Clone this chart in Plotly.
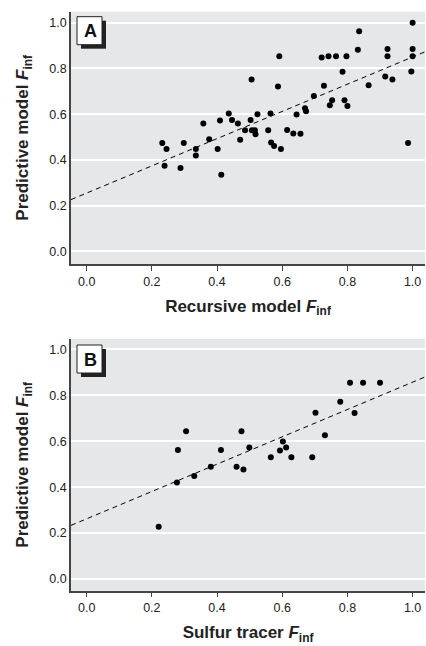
import plotly.graph_objects as go

# ---- data ----
a_x = [1.0, 0.836, 0.832, 0.923, 0.923, 1.0, 1.0, 0.996, 0.916, 0.938, 0.865, 0.797,
       0.765, 0.742, 0.721, 0.785, 0.728, 0.697, 0.753, 0.746, 0.791, 0.800, 0.591,
       0.587, 0.506, 0.670, 0.673, 0.644, 0.564, 0.524, 0.503, 0.436, 0.446, 0.464,
       0.409, 0.358, 0.376, 0.471, 0.486, 0.507, 0.516, 0.518, 0.557, 0.615, 0.634,
       0.656, 0.566, 0.575, 0.596, 0.402, 0.335, 0.298, 0.232, 0.245, 0.986, 0.335,
       0.239, 0.288, 0.413]
a_y = [1.0, 0.962, 0.882, 0.885, 0.853, 0.885, 0.853, 0.787, 0.765, 0.752, 0.726, 0.853,
       0.853, 0.853, 0.848, 0.785, 0.724, 0.680, 0.661, 0.639, 0.661, 0.636, 0.853,
       0.721, 0.752, 0.626, 0.613, 0.599, 0.603, 0.600, 0.575, 0.603, 0.575, 0.559,
       0.572, 0.559, 0.490, 0.488, 0.530, 0.530, 0.530, 0.512, 0.530, 0.531, 0.515,
       0.514, 0.476, 0.461, 0.448, 0.448, 0.448, 0.474, 0.474, 0.448, 0.474, 0.419,
       0.375, 0.365, 0.335]
b_x = [0.808, 0.848, 0.900, 0.778, 0.822, 0.702, 0.731, 0.305, 0.475, 0.280, 0.412,
       0.499, 0.602, 0.593, 0.612, 0.565, 0.628, 0.692, 0.381, 0.460, 0.481, 0.330,
       0.277, 0.221]
b_y = [0.855, 0.855, 0.855, 0.772, 0.723, 0.724, 0.626, 0.643, 0.643, 0.562, 0.562,
       0.573, 0.599, 0.560, 0.573, 0.530, 0.530, 0.530, 0.489, 0.489, 0.477, 0.448,
       0.420, 0.228]
a_fit = (0.255, 0.595)   # intercept, slope
b_fit = (0.262, 0.595)
x_ticks = [0.0, 0.2, 0.4, 0.6, 0.8, 1.0]
tick_text = ["0.0", "0.2", "0.4", "0.6", "0.8", "1.0"]
x_titles = ["<b>Recursive model <i>F</i><sub>inf</sub></b>", "<b>Sulfur tracer <i>F</i><sub>inf</sub></b>"]
y_title = "<b>Predictive model <i>F</i><sub>inf</sub></b>"
panel_labels = ["A", "B"]

W, H = 426, 646
FONT = "Liberation Sans Narrow, Liberation Sans, Arial, sans-serif"

def px(x):
    return x / W

def py(y):
    return 1 - y / H

fig = go.Figure()
xr = [-0.048, 1.038]

panels = [
    dict(xs=a_x, ys=a_y, fit=a_fit, top=11.7, bot=264, yr=[-0.055, 1.048], xa="x", ya="y", box=16.7),
    dict(xs=b_x, ys=b_y, fit=b_fit, top=339, bot=590.7, yr=[-0.051, 1.045], xa="x2", ya="y2", box=345),
]

shapes = []
annotations = []
for i, p in enumerate(panels):
    fig.add_trace(go.Scatter(x=p["xs"], y=p["ys"], mode="markers",
                             marker=dict(color="black", size=6),
                             xaxis=p["xa"], yaxis=p["ya"], showlegend=False))
    b0, b1 = p["fit"]
    fig.add_trace(go.Scatter(x=xr, y=[b0 + b1 * xr[0], b0 + b1 * xr[1]], mode="lines",
                             line=dict(color="black", width=1, dash="5px,4px"),
                             xaxis=p["xa"], yaxis=p["ya"], showlegend=False))
    sfx = "" if i == 0 else "2"
    common_x = dict(range=xr, domain=[px(71), px(425)], tickvals=x_ticks, ticktext=tick_text,
                    showgrid=False, zeroline=False, showline=True, linecolor="#444", linewidth=1.5,
                    ticks="outside", ticklen=5, tickcolor="#444", tickwidth=1,
                    tickfont=dict(family=FONT, size=12.5, color="#222"),
                    title=dict(text=x_titles[i], font=dict(family=FONT, size=17, color="#222"), standoff=12),
                    anchor="y" + sfx, fixedrange=True, automargin=False)
    common_y = dict(range=p["yr"], domain=[py(p["bot"]), py(p["top"])], tickvals=x_ticks, ticktext=tick_text,
                    showgrid=True, gridcolor="white", gridwidth=1.5, zeroline=False,
                    showline=True, linecolor="#444", linewidth=1.5, ticks="",
                    tickfont=dict(family=FONT, size=12.5, color="#222"),
                    title=dict(text=y_title, font=dict(family=FONT, size=17, color="#222"), standoff=16),
                    anchor="x" + sfx, fixedrange=True, automargin=False)
    fig.update_layout(**{"xaxis" + sfx: common_x, "yaxis" + sfx: common_y})
    # plot background
    shapes.append(dict(type="rect", xref="paper", yref="paper", layer="below",
                       x0=px(71), x1=px(425), y0=py(p["bot"]), y1=py(p["top"]),
                       fillcolor="#e6e7e8", line=dict(width=0)))
    # label box with shadow
    top = p["box"]
    shapes.append(dict(type="rect", xref="paper", yref="paper",
                       x0=px(81), x1=px(106), y0=py(top + 32), y1=py(top + 4),
                       fillcolor="#222", line=dict(width=0)))
    shapes.append(dict(type="rect", xref="paper", yref="paper",
                       x0=px(77), x1=px(102), y0=py(top + 28), y1=py(top),
                       fillcolor="white", line=dict(color="#222", width=1)))
    annotations.append(dict(text="<b>" + panel_labels[i] + "</b>", xref="paper", yref="paper",
                            x=px(90), y=py(top + 14.5), xanchor="center", yanchor="middle",
                            showarrow=False,
                            font=dict(family=FONT, size=18, color="#111")))

fig.update_layout(width=W, height=H, margin=dict(l=0, r=0, t=0, b=0),
                  paper_bgcolor="white", plot_bgcolor="rgba(0,0,0,0)",
                  shapes=shapes, annotations=annotations)

fig.write_html("out.html", config={"displayModeBar": False},
               post_script="document.body.style.margin='0px';")
